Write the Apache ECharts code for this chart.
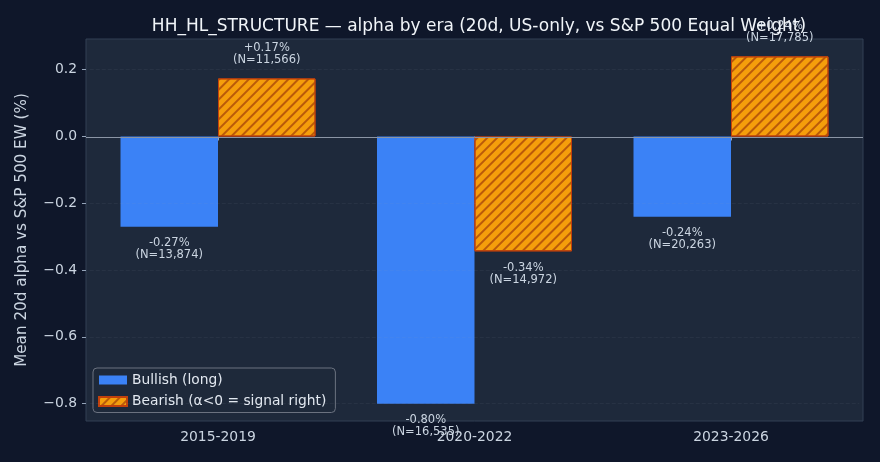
<!DOCTYPE html>
<html><head><meta charset="utf-8">
<script src="https://cdn.jsdelivr.net/npm/echarts@6/dist/echarts.min.js"></script>
<style>html,body{margin:0;padding:0;background:#0f172a;}#c{width:880px;height:462px;}</style>
</head><body><div id="c"></div>
<script>
const categories = ['2015-2019', '2020-2022', '2023-2026'];
const bullishValues = [-0.27, -0.80, -0.24];
const bullishN = [13874, 16535, 20263];
const bearishValues = [0.174, -0.344, 0.24];
const bearishN = [11566, 14972, 17785];
const yTicks = [-0.8, -0.6, -0.4, -0.2, 0.0, 0.2];

const FONT = 'DejaVu Sans';
function fmtLabel(v, n) {
  return (v > 0 ? '+' : '') + v.toFixed(2) + '%\n(N=' + n.toLocaleString('en-US') + ')';
}
function buildData(vals, ns) {
  return vals.map((v, i) => ({
    value: v,
    label: {
      position: v >= 0 ? 'top' : 'bottom',
      distance: v >= 0 ? 12 : 10,
      formatter: fmtLabel(v, ns[i])
    }
  }));
}
const labelStyle = { show: true, color: '#cbd5e1', fontSize: 11.5, fontFamily: FONT, lineHeight: 12.5, align: 'center' };

const chart = echarts.init(document.getElementById('c'), null, { renderer: 'canvas' });
chart.setOption({
  backgroundColor: '#0f172a',
  animation: false,
  title: {
    text: 'HH_HL_STRUCTURE — alpha by era (20d, US-only, vs S&P 500 Equal Weight)',
    left: 474, top: 13, textAlign: 'center', zlevel: 1,
    textStyle: { color: '#f1f5f9', fontSize: 17, fontWeight: 'normal', fontFamily: FONT }
  },
  grid: { left: 89.75, right: 20.75, top: 39, bottom: 41 },
  legend: {
    orient: 'vertical', left: 93, top: 368,
    backgroundColor: 'rgba(30,41,59,0.85)', borderColor: '#6b7280', borderWidth: 1, borderRadius: 4,
    padding: [5, 9, 4, 5], itemGap: 7.5,
    itemWidth: 28, itemHeight: 9, icon: 'rect',
    textStyle: { color: '#e2e8f0', fontSize: 13.8, fontFamily: FONT },
    data: ['Bullish (long)', 'Bearish (α<0 = signal right)']
  },
  xAxis: {
    type: 'category', data: categories,
    axisLine: { show: false },
    axisTick: { show: true, alignWithLabel: true, length: 4, lineStyle: { color: '#94a3b8' } },
    axisLabel: { color: '#cbd5e1', fontSize: 13.9, fontFamily: FONT, margin: 9 },
    splitLine: { show: false }
  },
  yAxis: {
    type: 'value', min: -0.852, max: 0.292, offset: 3.75,
    name: 'Mean 20d alpha vs S&P 500 EW (%)', nameLocation: 'middle', nameGap: 56,
    nameTextStyle: { color: '#cbd5e1', fontSize: 15.2, fontFamily: FONT },
    axisLine: { show: false },
    axisTick: { show: true, length: 4, customValues: yTicks, lineStyle: { color: '#94a3b8' } },
    axisLabel: {
      color: '#cbd5e1', fontSize: 13.9, fontFamily: FONT, margin: 9, customValues: yTicks,
      formatter: v => (v < 0 ? '\u2212' : '') + Math.abs(v).toFixed(1)
    },
    splitLine: { show: false }
  },
  series: [
    {
      name: 'Bullish (long)', type: 'bar', barWidth: 97.5, barGap: '0%',
      itemStyle: { color: '#3b82f6' },
      label: labelStyle,
      data: buildData(bullishValues, bullishN),
      markLine: {
        silent: true, symbol: 'none', label: { show: false }, z: 5,
        lineStyle: { color: 'rgba(148,163,184,0.08)', type: 'dashed', width: 1 },
        data: yTicks.filter(t => t !== 0).map(t => ({ yAxis: t }))
      }
    },
    {
      name: 'Bearish (α<0 = signal right)', type: 'bar', barWidth: 97.5, barGap: '0%',
      itemStyle: {
        color: '#f59e0b', borderColor: '#c2410c', borderWidth: 1,
        decal: { symbol: 'rect', symbolSize: 1, color: 'rgba(180,83,9,0.9)', dashArrayX: [1, 0], dashArrayY: [1.5, 5], rotation: -Math.PI / 4 }
      },
      label: labelStyle,
      data: buildData(bearishValues, bearishN)
    }
  ]
});
// plot frame and zero reference line across the full plot frame
const y0 = chart.convertToPixel({ yAxisIndex: 0 }, 0);
chart.setOption({
  graphic: [{
    type: 'rect', z: -10, silent: true,
    shape: { x: 86, y: 39, width: 777, height: 382 },
    style: { fill: '#1e293b', stroke: '#334155', lineWidth: 1 }
  }, {
    type: 'line', z: 50, silent: true,
    shape: { x1: 86, y1: Math.round(y0) + 0.5, x2: 863, y2: Math.round(y0) + 0.5 },
    style: { stroke: '#8b95a5', lineWidth: 1 }
  }]
});
</script></body></html>
